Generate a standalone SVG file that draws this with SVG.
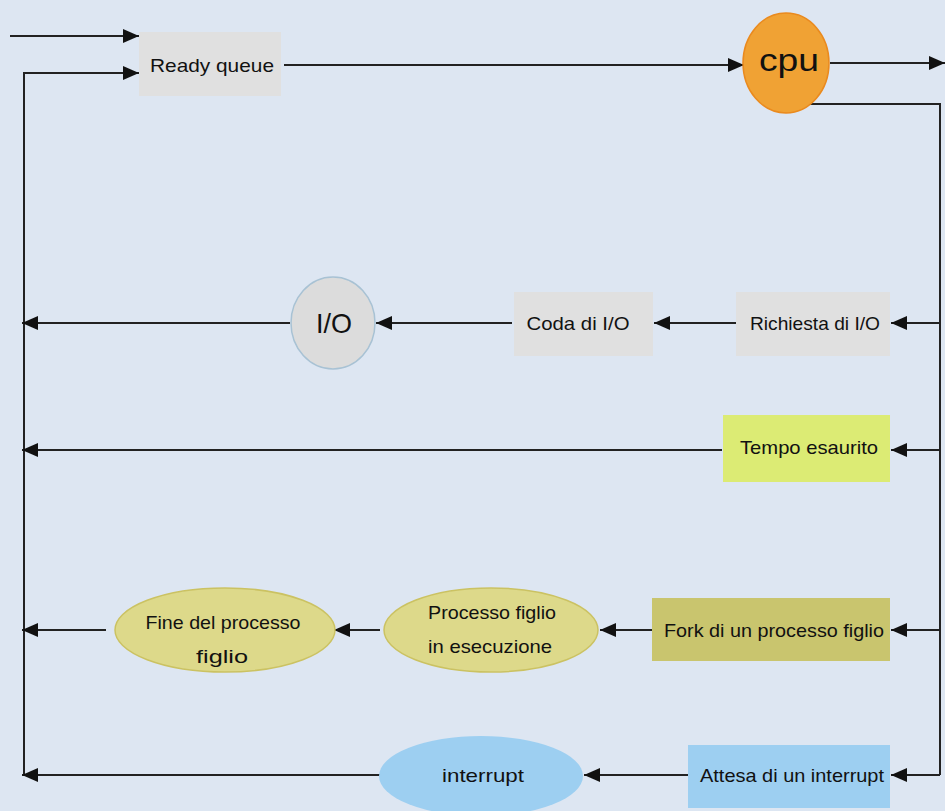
<svg xmlns="http://www.w3.org/2000/svg" width="945" height="811" viewBox="0 0 945 811">
<defs>
<marker id="ah" viewBox="0 0 16 14" refX="16" refY="7" markerWidth="16" markerHeight="14" markerUnits="userSpaceOnUse" orient="auto">
<path d="M0,0 L16,7 L0,14 Z" fill="#111"/>
</marker>
<style>
.ln{stroke:#222;stroke-width:2;fill:none}
.ar{stroke:#222;stroke-width:2;fill:none;marker-end:url(#ah)}
.t{font-family:"Liberation Sans",Arial,sans-serif;font-size:19px;fill:#111;text-anchor:middle;dominant-baseline:central}
.box{fill:#e0e0e0}
</style>
</defs>
<rect width="945" height="811" fill="#dde6f2"/>
<g id="connectors">
<path class="ar" d="M10,36 H139"/>
<path class="ln" d="M24,775 V73"/>
<path class="ar" d="M23,73 H139"/>
<path class="ar" d="M284,65 H744"/>
<path class="ar" d="M830,63 H945"/>
<path class="ln" d="M808,104 H940 V775"/>
<path class="ar" d="M940,323 H891"/>
<path class="ar" d="M736,323 H654"/>
<path class="ar" d="M512,323 H376"/>
<path class="ar" d="M290,323 H22"/>
<path class="ar" d="M940,450 H891"/>
<path class="ar" d="M722,450 H22"/>
<path class="ar" d="M940,630 H891"/>
<path class="ar" d="M652,630 H600"/>
<path class="ar" d="M380,630 H334"/>
<path class="ar" d="M106,630 H22"/>
<path class="ar" d="M940,775 H891"/>
<path class="ar" d="M688,775 H584"/>
<path class="ar" d="M380,775 H22"/>
</g>
<g id="ready-queue">
<rect class="box" x="139" y="32" width="142" height="64"/>
<text class="t" x="212" y="65" textLength="124" lengthAdjust="spacingAndGlyphs">Ready queue</text>
</g>
<g id="cpu">
<ellipse cx="786" cy="63" rx="43" ry="50" fill="#f0a234" stroke="#ea8a1e" stroke-width="1.5"/>
<text class="t" x="789" y="60" style="font-size:32px" textLength="60" lengthAdjust="spacingAndGlyphs">cpu</text>
</g>
<g id="io">
<ellipse cx="333" cy="323" rx="42" ry="46" fill="#dcdcdc" stroke="#a8c2d4" stroke-width="1.5"/>
<text class="t" x="334" y="323" style="font-size:28px" textLength="36" lengthAdjust="spacingAndGlyphs">I/O</text>
</g>
<g id="coda-io">
<rect class="box" x="514" y="292" width="139" height="64"/>
<text class="t" x="578" y="323" textLength="103" lengthAdjust="spacingAndGlyphs">Coda di I/O</text>
</g>
<g id="richiesta-io">
<rect class="box" x="736" y="292" width="154" height="64"/>
<text class="t" x="815" y="323" textLength="130" lengthAdjust="spacingAndGlyphs">Richiesta di I/O</text>
</g>
<g id="tempo-esaurito">
<rect x="723" y="415" width="167" height="67" fill="#dceb74"/>
<text class="t" x="809" y="447" textLength="138" lengthAdjust="spacingAndGlyphs">Tempo esaurito</text>
</g>
<g id="fork">
<rect x="652" y="598" width="238" height="63" fill="#c9c56e"/>
<text class="t" x="774" y="630" textLength="220" lengthAdjust="spacingAndGlyphs">Fork di un processo figlio</text>
</g>
<g id="processo-figlio">
<ellipse cx="491" cy="630" rx="107" ry="42" fill="#ddd98a" stroke="#cbc262" stroke-width="1.5"/>
<text class="t" x="492" y="612" textLength="128" lengthAdjust="spacingAndGlyphs">Processo figlio</text>
<text class="t" x="490" y="646" textLength="124" lengthAdjust="spacingAndGlyphs">in esecuzione</text>
</g>
<g id="fine-processo">
<ellipse cx="225" cy="630" rx="110" ry="42" fill="#ddd98a" stroke="#cbc262" stroke-width="1.5"/>
<text class="t" x="223" y="622" textLength="155" lengthAdjust="spacingAndGlyphs">Fine del processo</text>
<text class="t" x="222" y="656" textLength="52" lengthAdjust="spacingAndGlyphs">figlio</text>
</g>
<g id="interrupt">
<ellipse cx="481" cy="776" rx="102" ry="40" fill="#9dcff1"/>
<text class="t" x="483" y="775" textLength="82" lengthAdjust="spacingAndGlyphs">interrupt</text>
</g>
<g id="attesa-interrupt">
<rect x="688" y="745" width="202" height="63" fill="#9dcff1"/>
<text class="t" x="792" y="775" textLength="184" lengthAdjust="spacingAndGlyphs">Attesa di un interrupt</text>
</g>
</svg>
